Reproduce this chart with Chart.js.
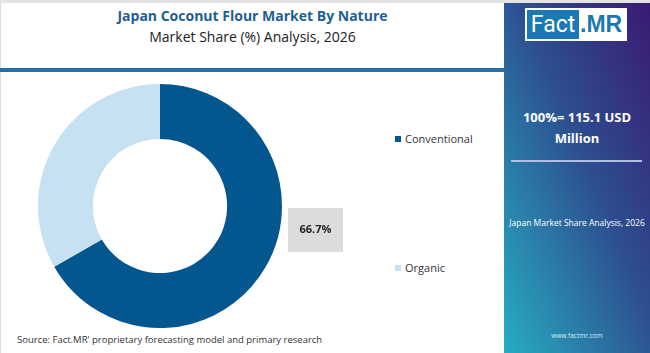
<!DOCTYPE html>
<html>
<head>
<meta charset="utf-8">
<script src="https://cdn.jsdelivr.net/npm/chart.js@4"></script>
<style>
  html, body { margin: 0; padding: 0; }
  body { width: 650px; height: 353px; position: relative; overflow: hidden; background: #fff; font-family: "Open Sans", sans-serif; }
  .frame { position: absolute; left: 0; top: 0; width: 648px; height: 350px; border: 1px solid #ddd; border-top: 3px solid #e4e4e4; }
  .title { position: absolute; left: 0; width: 505px; text-align: center; top: 6px; font-size: 14px; font-weight: 700; color: #1d5f92; }
  .subtitle { position: absolute; left: 0; width: 505px; text-align: center; top: 27px; font-size: 14px; color: #222; }
  .rule { position: absolute; left: 0; top: 68px; width: 504px; height: 4px; background: #2470a6; }
  .panel { position: absolute; left: 504px; top: 3px; width: 146px; height: 350px; background: linear-gradient(to bottom left, #3a1a74 0%, #2d4f90 45%, #27adc2 100%); color: #fff; text-align: center; }
  .logo { position: absolute; left: 21px; top: 5px; width: 102px; height: 33px; background: #fff; }
  .logo .fact { position: absolute; left: 2px; top: 2px; width: 52px; height: 29px; background: #1a78b4; color: #fff; font-size: 23px; line-height: 29px; font-family: "Liberation Sans Narrow", "Roboto", sans-serif; }
  .logo .mr { position: absolute; left: 55px; top: 2px; height: 29px; color: #1a78b4; font-size: 23px; font-weight: 700; line-height: 29px; font-family: "Liberation Sans", sans-serif; }
  .total { position: absolute; left: 0; width: 146px; top: 104px; font-size: 13px; font-weight: 700; line-height: 21px; }
  .sep { position: absolute; left: 7px; top: 157px; width: 131px; height: 2px; background: #b0bfe0; }
  .share { position: absolute; left: 0; width: 146px; top: 214px; font-size: 8.5px; }
  .web { position: absolute; left: 0; width: 146px; top: 328px; font-size: 6.5px; color: #d8eef4; }
  .legend { position: absolute; left: 395px; font-size: 11px; color: #333; }
  .legend span { display: inline-block; width: 6px; height: 6px; margin-right: 4px; vertical-align: 1px; }
  .source { position: absolute; left: 17px; top: 333px; font-size: 9.5px; color: #333; }
  #wrap { position: absolute; left: 0; top: 84px; width: 380px; height: 244px; }
</style>
</head>
<body>
<div class="frame"></div>
<div class="title">Japan Coconut Flour Market By Nature</div>
<div class="subtitle">Market Share (%) Analysis, 2026</div>
<div class="rule"></div>
<div class="panel">
  <div class="logo"><div class="fact">Fact</div><div class="mr">.MR</div></div>
  <div class="total">100%= 115.1 USD<br>Million</div>
  <div class="sep"></div>
  <div class="share">Japan Market Share Analysis, 2026</div>
  <div class="web">www.factmr.com</div>
</div>
<div class="legend" id="lg0" style="top:131px"><span></span>Conventional</div>
<div class="legend" id="lg1" style="top:260px"><span></span>Organic</div>
<div class="source">Source: Fact.MR' proprietary forecasting model and primary research</div>
<div id="wrap"><canvas id="pie"></canvas></div>
<script>
const categories = ['Conventional', 'Organic'];
const shares = [66.7, 33.3];
const colors = ['#04578e', '#c6e1f1'];

document.getElementById('lg0').querySelector('span').style.background = colors[0];
document.getElementById('lg1').querySelector('span').style.background = colors[1];

// grey box with the leading share, right of the ring
const shareBox = {
  id: 'shareBox',
  afterDraw(chart) {
    const arc = chart.getDatasetMeta(0).data[0];
    const ctx = chart.ctx;
    const x = arc.x + arc.outerRadius + 6, y = arc.y + 2;
    ctx.save();
    ctx.fillStyle = '#dcdcdc';
    ctx.fillRect(x, y, 55, 44);
    ctx.fillStyle = '#222';
    ctx.font = 'bold 11px "Open Sans", sans-serif';
    ctx.textAlign = 'center';
    ctx.textBaseline = 'middle';
    ctx.fillText(shares[0].toFixed(1) + '%', x + 27.5, y + 22);
    ctx.restore();
  }
};

new Chart(document.getElementById('pie').getContext('2d'), {
  type: 'doughnut',
  data: {
    labels: categories,
    datasets: [{
      data: shares,
      backgroundColor: colors,
      borderWidth: 0,
    }]
  },
  options: {
    responsive: true,
    maintainAspectRatio: false,
    animation: false,
    cutout: '55%',
    layout: { padding: { right: 60 } },
    events: [],
    plugins: {
      legend: { display: false },
      tooltip: { enabled: false }
    }
  },
  plugins: [shareBox]
});
</script>
</body>
</html>
